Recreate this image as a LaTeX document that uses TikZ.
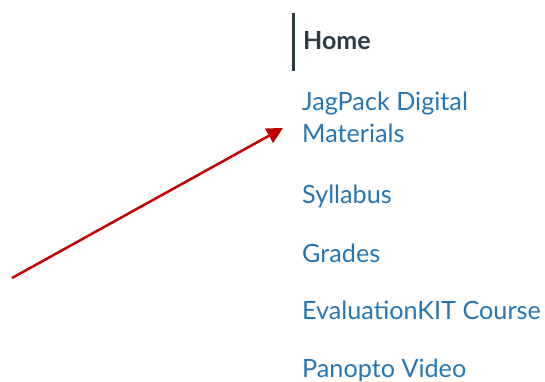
\documentclass[tikz,border=0pt]{standalone}
\usepackage{fontspec}
\setmainfont{Lato}
\usetikzlibrary{arrows.meta}
\definecolor{linkblue}{RGB}{39,117,178}
\definecolor{bardark}{RGB}{45,59,69}
\definecolor{arrowred}{RGB}{192,0,0}
\begin{document}
\begin{tikzpicture}[x=1pt, y=-1pt]
\useasboundingbox (0,0) rectangle (545,382);
\tikzset{menu/.style={anchor=base west, inner sep=0, text=linkblue, font=\fontsize{25.2}{32}\selectfont}}
\node[menu, text=bardark, font=\fontsize{25}{32}\selectfont\bfseries] (home) at (303,50) {Home};
\node[menu, align=left, anchor=north west] (jag) at (302,91.5) {JagPack Digital\\Materials};
\node[menu] (syl) at (302,203) {Syllabus};
\node[menu] (gra) at (302,262) {Grades};
\node[menu] (eva) at (302,319) {EvaluationKIT Course};
\node[menu] (pan) at (302,377) {Panopto Video};
% Bar
\coordinate (bt) at (293,13);
\coordinate (bb) at (293,71);
\draw[bardark, line width=3] (bt)--(bb);
% Arrow
\coordinate (tail) at (12,278);
\coordinate (tip) at (283,128);
\draw[-{Triangle[length=16, width=16]}, arrowred, line width=2.5] (tail)--(tip);
\end{tikzpicture}
\end{document}
